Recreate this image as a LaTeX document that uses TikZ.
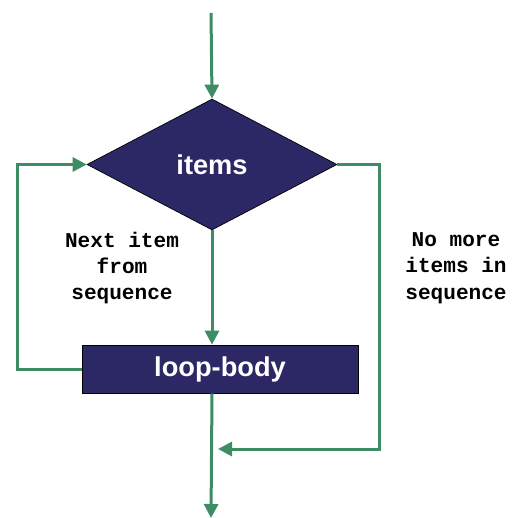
\documentclass[tikz,border=0pt]{standalone}
\usepackage{fontspec}
\setsansfont{Liberation Sans}
\setmonofont{Liberation Mono}
\usetikzlibrary{arrows.meta,calc,positioning,shapes.geometric}
\definecolor{flowgreen}{RGB}{62,140,100}
\definecolor{flownavy}{RGB}{44,40,102}

\begin{document}
\begin{tikzpicture}[x=0.2mm,y=-0.2mm,>={Triangle[length=2.8mm,width=2.8mm]},
  flow/.style={flowgreen,line width=0.6mm},
  decision/.style={diamond,draw=black,fill=flownavy,inner sep=0pt,minimum width=50mm,minimum height=26.2mm,text=white,font=\sffamily\bfseries\fontsize{15.5}{18}\selectfont},
  bodybox/.style={rectangle,draw=black,fill=flownavy,inner sep=0pt,minimum width=55.2mm,minimum height=9.6mm,text=white,font=\sffamily\bfseries\fontsize{15.5}{18}\selectfont},
  lbl/.style={align=center,font=\ttfamily\bfseries\fontsize{12}{15}\selectfont}]
  \useasboundingbox (0,0) rectangle (514,518);
  \node[decision] (items) at (212,164.5) {items};
  \node[bodybox] (body) at (220,369) {loop-body};
  \node[lbl] (next) at (122,268) {Next item\\from\\sequence};
  \node[lbl] (nomore) at (456,268) {No more\\items in\\sequence};
  \coordinate (start) at (211,13);
  \coordinate (stop) at (211,518);
  \coordinate (join) at (218,449);
  \coordinate (lx) at (17,0);
  \coordinate (rx) at (379,0);
  % main line
  \draw[flow,->] (start) -- (items.north);
  \draw[flow,->] (items.south) -- (items.south |- body.north);
  \draw[flow,->] (items.south |- body.south) -- (stop);
  % loop back
  \draw[flow,->] (body.west) -- (body.west -| lx) -- (items.west -| lx) -- (items.west);
  % exit
  \draw[flow,->] (items.east) -- (items.east -| rx) -- (join -| rx) -- (join);
\end{tikzpicture}
\end{document}
